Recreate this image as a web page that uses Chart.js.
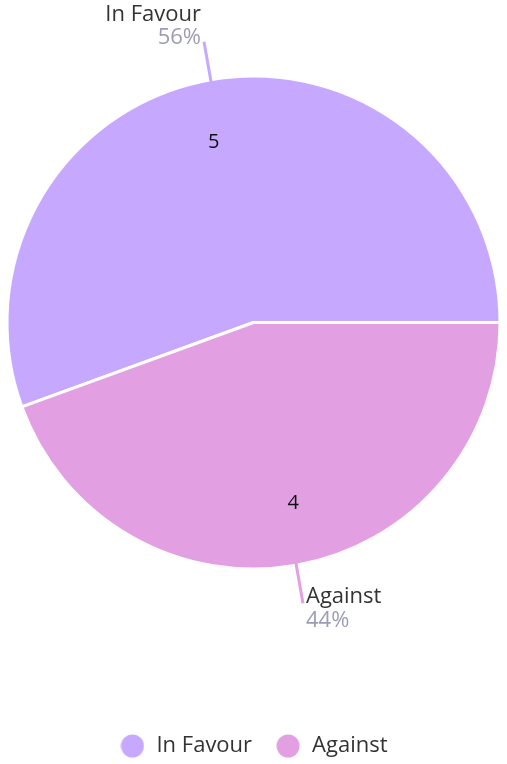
<!DOCTYPE html>
<html>
<head>
<meta charset="utf-8">
<script src="https://cdn.jsdelivr.net/npm/chart.js@4.4.1/dist/chart.umd.min.js"></script>
<style>
  html, body { margin: 0; padding: 0; background: #fff; }
  canvas { display: block; }
</style>
</head>
<body>
<canvas id="chart" width="507" height="764"></canvas>
<script>
// Data
const labels = ['In Favour', 'Against'];
const votes = [5, 4];
const colors = ['#c6a9fe', '#e2a0e2'];

const FONT = "'Open Sans', sans-serif";

// small round dot used as legend marker
function makeDot(color) {
  const c = document.createElement('canvas');
  c.width = 24;
  c.height = 24;
  const g = c.getContext('2d');
  g.fillStyle = color;
  g.beginPath();
  g.arc(12, 12, 11.5, 0, Math.PI * 2);
  g.fill();
  return c;
}
const dots = colors.map(makeDot);

// outer labels with leader lines + value inside each slice
const sliceLabels = {
  id: 'sliceLabels',
  afterDatasetsDraw(chart) {
    const ctx = chart.ctx;
    const meta = chart.getDatasetMeta(0);
    const total = votes.reduce((a, b) => a + b, 0);
    meta.data.forEach((arc, i) => {
      const p = arc.getProps(['x', 'y', 'startAngle', 'endAngle', 'outerRadius'], true);
      const mid = (p.startAngle + p.endAngle) / 2;
      const cos = Math.cos(mid);
      const sin = Math.sin(mid);
      const r = p.outerRadius - 1.5;

      ctx.save();
      // value inside (sits a touch counter-clockwise of the middle)
      const va = mid - 0.042;
      ctx.font = '20px ' + FONT;
      ctx.fillStyle = '#111';
      ctx.textAlign = 'center';
      ctx.textBaseline = 'middle';
      ctx.fillText(String(votes[i]), p.x + Math.cos(va) * r * 0.755, p.y + Math.sin(va) * r * 0.755);

      // leader line
      const x0 = p.x + cos * (r - 1), y0 = p.y + sin * (r - 1);
      const x1 = p.x + cos * 285, y1 = p.y + sin * 285;
      ctx.strokeStyle = colors[i];
      ctx.lineWidth = 3;
      ctx.beginPath();
      ctx.moveTo(x0, y0);
      ctx.lineTo(x1, y1);
      ctx.stroke();

      // text
      const pct = Math.round(votes[i] / total * 100) + '%';
      ctx.font = '22px ' + FONT;
      ctx.textBaseline = 'alphabetic';
      let tx, b1, b2;
      if (cos < 0) {
        ctx.textAlign = 'right';
        tx = x1 - 3;
      } else {
        ctx.textAlign = 'left';
        tx = x1 + 3;
      }
      if (sin < 0) {
        b2 = y1 + 2;
        b1 = b2 - 23;
      } else {
        b1 = y1;
        b2 = b1 + 23.5;
      }
      ctx.fillStyle = '#333';
      ctx.fillText(labels[i], tx, b1);
      ctx.fillStyle = '#9d9cb6';
      ctx.fillText(pct, tx, b2);
      ctx.restore();
    });
  }
};

new Chart(document.getElementById('chart'), {
  type: 'pie',
  data: {
    labels: labels,
    datasets: [{
      data: votes,
      backgroundColor: colors,
      borderColor: '#ffffff',
      borderWidth: 3,
      hoverOffset: 0,
    }],
  },
  options: {
    responsive: false,
    animation: false,
    devicePixelRatio: 1,
    rotation: 250,
    radius: 246.5,
    layout: {
      padding: { top: 0, bottom: -3, left: 0, right: 0 },
    },
    plugins: {
      tooltip: { enabled: false },
      legend: {
        position: 'bottom',
        title: {
          display: true,
          text: '',
          font: { size: 10, lineHeight: 1 },
          padding: { top: 0, bottom: 57 },
        },
        labels: {
          usePointStyle: true,
          pointStyleWidth: 26,
          padding: 23,
          color: '#333',
          font: { family: FONT, size: 22 },
          generateLabels(chart) {
            const items = Chart.overrides.pie.plugins.legend.labels.generateLabels(chart);
            items.forEach((it, i) => { it.pointStyle = dots[i]; });
            return items;
          },
        },
      },
    },
  },
  plugins: [sliceLabels],
});
</script>
</body>
</html>
